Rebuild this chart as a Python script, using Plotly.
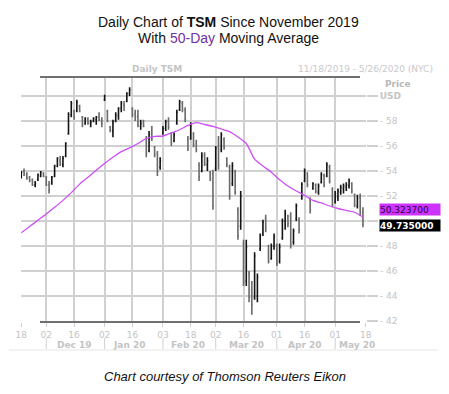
import numpy as np
import pandas as pd
import plotly.graph_objects as go

# ---------------- data ----------------
holidays = ['2019-11-28', '2019-12-25', '2020-01-01', '2020-01-20',
            '2020-02-17', '2020-04-10', '2020-05-25']
start_date = '2019-11-18'
end_date = '2020-05-15'

highs = [54.0, 54.2, 53.9, 53.6, 53.4, 53.2, 53.8, 54.0, 53.9, 53.6,
         53.2, 53.6, 54.5, 55.1, 55.2, 55.2, 56.3, 58.7, 59.6, 58.9,
         59.7, 59.3, 58.4, 58.3, 58.3, 58.1, 58.3, 58.4, 58.7, 58.3,
         60.1, 58.9, 57.6, 58.1, 58.7, 59.1, 59.6, 59.6, 60.3, 60.7,
         59.1, 58.9, 58.9, 58.1, 58.1, 56.8, 57.2, 57.6, 56.0, 55.6,
         55.1, 57.6, 58.1, 58.3, 57.1, 57.1, 58.9, 59.7, 59.6, 59.1,
         56.8, 57.9, 57.1, 56.5, 54.7, 55.5, 55.5, 55.1, 54.0, 54.1,
         56.0, 56.8, 57.1, 56.7, 55.1, 54.5, 54.7, 54.1, 51.1, 52.4,
         48.5, 48.5, 46.0, 45.2, 47.5, 45.8, 49.0, 50.1, 50.5, 48.1,
         48.2, 49.0, 48.2, 48.2, 50.2, 50.9, 50.5, 50.7, 49.4, 51.4,
         50.3, 53.1, 54.2, 53.9, 51.9, 53.1, 53.0, 53.0, 53.9, 53.8,
         54.7, 54.5, 52.7, 52.4, 52.6, 52.9, 53.0, 53.1, 53.4, 53.1,
         52.2, 52.1, 52.2, 51.1]
lows = [53.4, 53.6, 53.3, 53.1, 52.8, 52.7, 53.2, 53.5, 53.5, 52.8,
        52.2, 52.9, 53.5, 54.3, 54.4, 54.3, 55.1, 56.9, 58.3, 58.1,
        58.7, 58.7, 57.5, 57.7, 57.7, 57.5, 57.9, 57.7, 58.0, 57.5,
        59.6, 57.9, 57.1, 56.7, 57.9, 58.1, 58.7, 58.8, 59.5, 60.0,
        58.3, 58.0, 57.5, 57.3, 57.5, 55.1, 55.5, 56.4, 55.1, 53.6,
        54.1, 56.9, 57.2, 57.3, 56.0, 56.3, 57.7, 58.8, 58.7, 57.9,
        55.6, 56.5, 55.9, 55.5, 53.2, 53.9, 54.4, 54.0, 53.2, 50.9,
        54.0, 54.1, 55.5, 55.7, 54.3, 51.7, 52.8, 52.1, 48.5, 49.3,
        44.8, 44.8, 43.5, 42.5, 43.7, 43.5, 47.6, 48.8, 49.1, 46.6,
        46.9, 47.7, 46.4, 46.6, 48.5, 49.3, 49.5, 47.8, 48.1, 50.0,
        49.0, 51.7, 53.1, 52.7, 50.6, 52.5, 52.2, 52.1, 53.0, 52.7,
        53.5, 53.0, 51.1, 51.4, 51.6, 52.1, 52.2, 52.4, 52.6, 52.2,
        51.1, 51.0, 50.4, 49.5]
opens = [53.6, 54.0, 53.7, 53.5, 53.3, 52.9, 53.3, 53.6, 53.8, 53.5,
         52.9, 53.0, 53.6, 54.4, 54.8, 54.5, 55.2, 57.0, 58.5, 58.8,
         58.8, 59.2, 58.3, 57.8, 58.1, 57.8, 58.0, 58.1, 58.3, 58.0,
         59.7, 58.8, 57.5, 57.2, 58.0, 58.4, 59.0, 59.3, 59.6, 60.2,
         59.0, 58.6, 58.4, 57.6, 57.9, 56.6, 55.6, 57.0, 55.9, 55.4,
         54.3, 57.0, 57.4, 58.0, 57.0, 56.4, 57.8, 58.9, 59.4, 58.9,
         56.5, 56.6, 57.0, 56.2, 54.5, 54.0, 55.3, 54.5, 53.9, 53.8,
         54.2, 55.9, 55.7, 56.5, 55.0, 54.3, 53.0, 53.9, 50.9, 49.6,
         48.2, 45.2, 45.8, 44.5, 43.9, 44.0, 47.8, 49.0, 50.2, 48.0,
         47.0, 48.0, 48.1, 46.8, 48.6, 50.0, 50.4, 50.4, 48.3, 50.2,
         50.1, 51.8, 53.2, 53.8, 51.7, 52.6, 52.9, 52.3, 53.1, 53.6,
         53.6, 54.3, 52.5, 51.5, 51.9, 52.3, 52.6, 52.7, 52.8, 53.0,
         52.1, 51.2, 51.9, 50.7]
closes = [53.9, 53.8, 53.4, 53.2, 52.9, 53.0, 53.7, 53.9, 53.6, 52.9,
          52.5, 53.5, 54.4, 55.0, 54.6, 55.0, 56.2, 58.5, 59.4, 58.3,
          59.5, 58.8, 57.7, 58.2, 57.9, 57.9, 58.2, 58.3, 58.1, 57.8,
          60.0, 58.0, 57.3, 57.9, 58.5, 59.0, 59.4, 59.2, 60.2, 60.5,
          58.5, 58.3, 57.7, 57.8, 57.6, 55.4, 56.9, 56.6, 55.3, 54.0,
          54.8, 57.4, 57.9, 57.5, 56.2, 56.9, 58.7, 59.5, 58.9, 58.1,
          55.8, 57.6, 56.1, 55.7, 53.5, 55.2, 54.6, 54.8, 53.4, 51.2,
          55.8, 54.5, 56.9, 55.9, 54.5, 52.0, 54.4, 52.3, 48.8, 52.0,
          45.1, 47.9, 43.9, 43.3, 47.2, 45.5, 48.8, 49.9, 49.4, 46.8,
          48.0, 48.7, 46.6, 47.9, 50.0, 50.6, 49.8, 48.1, 49.2, 51.2,
          49.3, 52.9, 54.0, 52.9, 50.9, 53.0, 52.4, 52.8, 53.7, 52.9,
          54.5, 53.2, 51.3, 52.2, 52.4, 52.7, 52.8, 52.9, 53.2, 52.4,
          51.3, 51.8, 50.6, 49.735]

# 50-day moving average, read at every third session
ma_step = 3
ma_values = [49.06, 49.56, 50.06, 50.56, 51.10, 51.65, 52.27, 52.95, 53.50, 54.07,
             54.60, 55.10, 55.55, 55.85, 56.20, 56.60, 56.77, 56.80, 57.05, 57.30,
             57.65, 57.87, 57.72, 57.57, 57.36, 57.15, 56.72, 56.20, 54.95, 54.40,
             53.90, 53.30, 52.80, 52.40, 52.05, 51.65, 51.45, 51.20, 51.00, 50.85,
             50.70, 50.32]
ma_last = 50.323700
close_last = 49.735000

tick_dates = ['2019-11-18', '2019-12-02', '2019-12-16', '2020-01-02', '2020-01-16',
              '2020-02-03', '2020-02-18', '2020-03-02', '2020-03-16', '2020-04-01',
              '2020-04-16', '2020-05-01', '2020-05-18']
tick_labels = ['18', '02', '16', '02', '16', '03', '18', '02', '16', '01', '16', '01', '18']
month_labels = ['Dec 19', 'Jan 20', 'Feb 20', 'Mar 20', 'Apr 20', 'May 20']
month_label_dates = ['2019-12-16', '2020-01-15', '2020-02-14', '2020-03-17',
                     '2020-04-16', '2020-05-13']
month_start_dates = ['2019-12-02', '2020-01-02', '2020-02-03', '2020-03-02',
                     '2020-04-01', '2020-05-01']
price_ticks = [42, 44, 46, 48, 50, 52, 54, 56, 58, 60]
# the 50 label sits under the value boxes in the original, so it is not shown
price_tick_labels = ['42', '44', '46', '48', '', '52', '54', '56', '58', 'USD']

# ---------------- helpers ----------------
hol = np.array(holidays, dtype='datetime64[D]')
trade_dates = pd.bdate_range(start_date, end_date, freq='C', holidays=holidays)
n = min(len(trade_dates), len(highs))


def idx(d):
    return int(np.busday_count(np.datetime64(start_date), np.datetime64(d), holidays=hol))


x = np.arange(n)
ma_x = x[::ma_step][:len(ma_values)]

LIGHT = '#c4c4c4'
GRID = '#d0d0d0'
FONT = 'DejaVu Sans'

# the page body has an 8px default margin; lay out in window pixels minus that
OFF = 8
W, H = 449 - 2 * OFF, 394 - 2 * OFF
L, R, T, B = 21 - OFF, 366 - OFF, 77 - OFF, 322 - OFF
pw, ph = R - L, B - T


def px(xp):
    return (xp - OFF - L) / pw


def py(yp):
    return (B - (yp - OFF)) / ph


fig = go.Figure()
fig.add_trace(go.Ohlc(
    x=x, open=opens[:n], high=highs[:n], low=lows[:n], close=closes[:n],
    increasing=dict(line=dict(color='#141414', width=1.6)),
    decreasing=dict(line=dict(color='#6a6a6a', width=1.6)),
    tickwidth=0.35, showlegend=False, hoverinfo='skip'))
fig.add_trace(go.Scatter(
    x=ma_x, y=ma_values, mode='lines',
    line=dict(color='#cc4ef5', width=1.3, shape='spline', smoothing=0.6),
    showlegend=False, hoverinfo='skip'))

tickpos = [idx(d) for d in tick_dates]
ytext = []
for t in price_tick_labels:
    if t == 'USD':
        ytext.append('<b>USD</b>')
    elif t == '':
        ytext.append('')
    else:
        ytext.append('- ' + t)

fig.update_layout(
    width=W, height=H,
    margin=dict(l=L, r=W - R, t=T, b=H - B, pad=0, autoexpand=False),
    paper_bgcolor='white', plot_bgcolor='white',
    font=dict(family=FONT, size=9, color=LIGHT),
    xaxis=dict(range=[-0.1, tickpos[-1] + 0.1], tickmode='array', tickvals=tickpos,
               ticktext=tick_labels, showgrid=True, gridcolor=GRID, gridwidth=1.5,
               ticks='outside', ticklen=4, tickcolor=GRID, tickwidth=1,
               tickfont=dict(family=FONT, size=9, color=LIGHT), automargin=False,
               zeroline=False, showline=False, rangeslider=dict(visible=False),
               fixedrange=True),
    yaxis=dict(side='right', range=[41.92, 61.52], tickmode='array',
               tickvals=price_ticks, ticktext=ytext, showgrid=True, gridcolor=GRID,
               gridwidth=1.5, ticks='outside', ticklen=11, tickcolor=GRID, tickwidth=1.5,
               tickfont=dict(family=FONT, size=9, color=LIGHT), automargin=False,
               zeroline=False, showline=False, fixedrange=True),
)

shapes = [
    dict(type='line', xref='paper', yref='paper', x0=px(40), x1=px(360), y0=1, y1=1,
         line=dict(color='#707070', width=2)),
    dict(type='line', xref='paper', yref='paper', x0=px(40), x1=px(360), y0=0, y1=0,
         line=dict(color='#707070', width=2)),
    dict(type='line', xref='paper', yref='paper', x0=px(9), x1=px(438), y0=py(350), y1=py(350),
         line=dict(color='#e6e6e6', width=1)),
]
for d in month_start_dates:
    shapes.append(dict(type='line', xref='x', yref='paper', x0=idx(d), x1=idx(d),
                       y0=py(338), y1=py(349), line=dict(color=GRID, width=1)))
fig.update_layout(shapes=shapes)

ann = []
ann.append(dict(xref='paper', yref='paper', x=px(228), y=py(22), xanchor='center', yanchor='middle',
                text='Daily Chart of <b>TSM</b> Since November 2019', showarrow=False,
                font=dict(family='Liberation Sans', size=14, color='#111111')))
ann.append(dict(xref='paper', yref='paper', x=px(228), y=py(37.5), xanchor='center', yanchor='middle',
                text="With <span style='color:#7030a0'>50-Day</span> Moving Average", showarrow=False,
                font=dict(family='Liberation Sans', size=14, color='#111111')))
ann.append(dict(xref='paper', yref='paper', x=px(157), y=py(69), xanchor='center', yanchor='middle',
                text='<b>Daily TSM</b>', showarrow=False, font=dict(family=FONT, size=9, color=LIGHT)))
ann.append(dict(xref='paper', yref='paper', x=px(435), y=py(69), xanchor='right', yanchor='middle',
                text='11/18/2019 - 5/26/2020 (NYC)', showarrow=False,
                font=dict(family=FONT, size=9, color='#c8c8c8')))
ann.append(dict(xref='paper', yref='paper', x=px(383), y=py(84), xanchor='left', yanchor='middle',
                text='<b>Price</b>', showarrow=False, font=dict(family=FONT, size=9, color='#b8b8b8')))
for lab, d in zip(month_labels, month_label_dates):
    ann.append(dict(xref='x', yref='paper', x=idx(d), y=py(345), xanchor='center', yanchor='middle',
                    text='<b>' + lab + '</b>', showarrow=False,
                    font=dict(family=FONT, size=9, color=LIGHT)))
ann.append(dict(xref='paper', yref='y', x=px(379), y=ma_last, xanchor='left', yanchor='middle',
                yshift=7, text='%.6f' % ma_last, showarrow=False, bgcolor='#cc33ff',
                borderpad=0, width=60, height=11, align='left',
                font=dict(family=FONT, size=9, color='#2a0040')))
ann.append(dict(xref='paper', yref='y', x=px(379), y=close_last, xanchor='left', yanchor='middle',
                yshift=-1, text='<b>%.6f</b>' % close_last, showarrow=False, bgcolor='#000000',
                borderpad=0, width=60, height=11, align='left',
                font=dict(family=FONT, size=9, color='#ffffff')))
ann.append(dict(xref='paper', yref='paper', x=px(225), y=py(376), xanchor='center', yanchor='middle',
                text='<i>Chart courtesy of Thomson Reuters Eikon</i>', showarrow=False,
                font=dict(family='Liberation Sans', size=13, color='#111111')))
fig.update_layout(annotations=ann)

fig.write_html('out.html')
